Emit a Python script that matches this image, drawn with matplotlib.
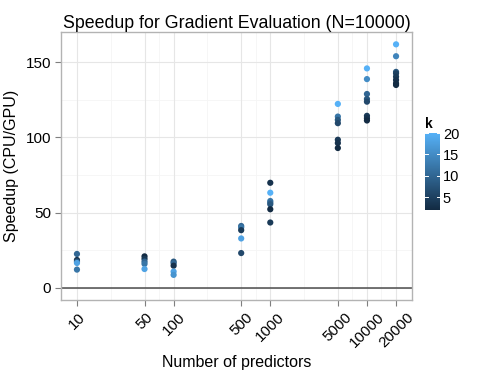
import numpy as np
import matplotlib
matplotlib.use("Agg")
import matplotlib.pyplot as plt
from matplotlib.colors import LinearSegmentedColormap, Normalize

plt.rcParams['font.family'] = ['Liberation Sans', 'DejaVu Sans']

# data: one list per x value
predictors = [10, 50, 100, 500, 1000, 5000, 10000, 20000]
speedup = [
    [22.5, 18.5, 17.4, 16.5, 12.1],
    [20.9, 19.2, 17.4, 15.9, 12.5],
    [17.4, 16.3, 14.7, 10.8, 8.6],
    [41.1, 40.1, 38.3, 32.8, 23.1],
    [69.8, 63.2, 57.7, 56.6, 55.5, 52.2, 43.4],
    [122.2, 113.8, 111.6, 109.4, 98.4, 96.2, 92.9],
    [145.8, 138.7, 128.8, 125.5, 123.7, 114.3, 112.7, 111.2],
    [161.8, 153.9, 143.5, 142.5, 140.3, 138.1, 135.9, 134.8],
]
k_vals = [
    [10, 3, 8, 18, 12],
    [2, 4, 10, 12, 18],
    [8, 10, 3, 18, 16],
    [10, 12, 4, 18, 6],
    [3, 20, 12, 10, 8, 2, 4],
    [20, 12, 8, 6, 4, 3, 2],
    [20, 15, 10, 8, 6, 4, 3, 2],
    [20, 14, 8, 5, 4, 3, 2, 2],
]
x_ticks = [10, 50, 100, 500, 1000, 5000, 10000, 20000]
y_ticks = [0, 50, 100, 150]
k_ticks = [5, 10, 15, 20]

cmap = LinearSegmentedColormap.from_list("gg", ["#132B43", "#56B1F7"])
norm = Normalize(vmin=2, vmax=20)

W, H = 485, 374
fig = plt.figure(figsize=(W / 100, H / 100), dpi=100)
ax = fig.add_axes([61 / W, (H - 300) / H, 351 / W, 268 / H])

# flatten for scatter
xs, ys, ks = [], [], []
for p, vals, kk in zip(predictors, speedup, k_vals):
    xs += [p] * len(vals)
    ys += vals
    ks += kk

ax.set_xscale('log')
lx = np.log10([min(predictors), max(predictors)])
pad = 0.05 * (lx[1] - lx[0])
ax.set_xlim(10 ** (lx[0] - pad), 10 ** (lx[1] + pad))
ax.set_ylim(-8.1, 170)

# grid lines, ggplot style
minor_x = [np.sqrt(a * b) for a, b in zip(x_ticks[:-1], x_ticks[1:])]
for v in minor_x:
    ax.axvline(v, color='#F5F5F5', lw=0.6, zorder=0)
for v in [25, 75, 125]:
    ax.axhline(v, color='#F5F5F5', lw=0.6, zorder=0)
for v in x_ticks:
    ax.axvline(v, color='#E6E6E6', lw=0.8, zorder=0)
for v in y_ticks:
    ax.axhline(v, color='#E6E6E6', lw=0.8, zorder=0)

ax.axhline(0, color='#4D4D4D', lw=1.1, zorder=1)
ax.scatter(xs, ys, c=ks, cmap=cmap, norm=norm, s=20, edgecolors='none', zorder=3)

ax.set_xticks(x_ticks)
ax.set_xticklabels([str(t) for t in x_ticks], rotation=45, ha='center', va='top',
                   fontsize=11)
ax.minorticks_off()
ax.set_yticks(y_ticks)
ax.set_yticklabels([str(t) for t in y_ticks], fontsize=11)
ax.tick_params(color='#7F7F7F', length=4, width=0.8, pad=3)
for s in ax.spines.values():
    s.set_color('#B3B3B3')
    s.set_linewidth(1.0)

ax.set_xlabel("Number of predictors", fontsize=11.5, labelpad=4)
ax.set_ylabel("Speedup (CPU/GPU)", fontsize=11.5, labelpad=5)
ax.set_title("Speedup for Gradient Evaluation (N=10000)", fontsize=12.8, pad=3)

# colour bar legend
cax = fig.add_axes([425 / W, (H - 210) / H, 15 / W, 77 / H])
grad = np.linspace(2, 20, 200).reshape(-1, 1)
cax.imshow(grad, aspect='auto', cmap=cmap, norm=norm, origin='lower',
           extent=[0, 1, 2, 20])
cax.set_xlim(0, 1)
cax.set_ylim(2, 20)
cax.set_xticks([])
cax.set_yticks(k_ticks)
cax.yaxis.tick_right()
cax.set_yticklabels([str(t) for t in k_ticks], fontsize=10.5)
cax.tick_params(axis='y', length=0, pad=2)
for t in k_ticks:
    cax.plot([0, 0.2], [t, t], color='white', lw=0.7)
    cax.plot([0.8, 1], [t, t], color='white', lw=0.7)
for s in cax.spines.values():
    s.set_visible(False)
fig.text(425 / W, (H - 124) / H, "k", fontsize=10, fontweight='bold', va='center', ha='left')

fig.savefig("out.png", dpi=100)
